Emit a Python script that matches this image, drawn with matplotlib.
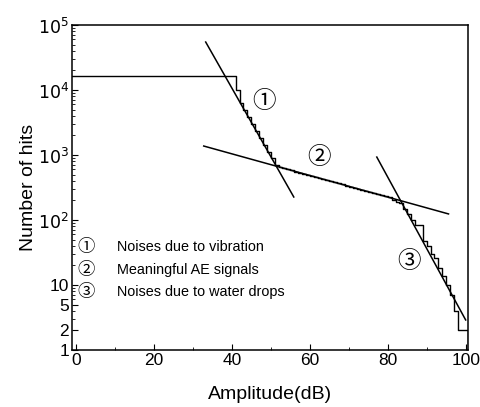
import matplotlib
matplotlib.use("Agg")
import matplotlib.pyplot as plt
from matplotlib.ticker import FixedLocator, FixedFormatter, MultipleLocator, LogLocator, NullFormatter

plt.rcParams['font.family'] = ['Liberation Sans', 'DejaVu Sans']

# cumulative hit counts (steps-post): value holds from amplitude[i] to amplitude[i+1]
amplitude = [-1, 41, 42, 43, 44, 45, 46, 47, 48, 49, 50, 51, 52, 53, 54, 55, 56, 57, 58, 59,
             60, 61, 62, 63, 64, 65, 66, 67, 68, 69, 70, 71, 72, 73, 74, 75, 76, 77, 78, 79,
             80, 81, 82, 83, 84, 85, 86, 87, 88, 89, 90, 91, 92, 93, 94, 95, 96, 97, 98, 99,
             100, 100.5, 100.5]
hits = [16500, 10000, 6300, 4900, 3800, 3000, 2350, 1850, 1450, 1130, 890, 700, 650, 626, 602, 580,
        557, 537, 516, 497, 478, 460, 443, 426, 410, 395, 380, 366, 352, 339, 326, 313,
        302, 290, 279, 269, 259, 249, 240, 231, 222, 205, 190, 180, 150, 125, 100, 83,
        83, 47, 40, 30, 26, 18, 14, 10, 7, 4, 2, 2, 2, 2, 1]

# fitted lines (endpoints)
fit1_x = [33.3, 55.9]
fit1_y = [54700, 226]
fit2_x = [32.8, 95.6]
fit2_y = [1374, 124]
fit3_x = [77.2, 100.0]
fit3_y = [930, 2.9]

# region labels
region_marks = ['\u2460', '\u2461', '\u2462']
region_x = [48.2, 62.3, 85.4]
region_y = [6760, 930, 22.6]
legend_texts = ['Noises due to vibration', 'Meaningful AE signals', 'Noises due to water drops']

ytick_vals = [1, 2, 5, 10, 100, 1000, 10000, 100000]
ytick_labels = ['1', '2', '5', '10', r'$10^2$', r'$10^3$', r'$10^4$', r'$10^5$']
xtick_vals = [0, 20, 40, 60, 80, 100]

fig = plt.figure(figsize=(4.8, 4.07), dpi=100)
ax = fig.add_axes([0.15, 0.14, 0.825, 0.7986])

ax.plot(amplitude, hits, drawstyle='steps-post', color='black', lw=1.0)
for fx, fy in [(fit1_x, fit1_y), (fit2_x, fit2_y), (fit3_x, fit3_y)]:
    ax.plot(fx, fy, color='black', lw=1.1)

circ_font = ['Noto Sans CJK JP', 'DejaVu Sans']
for m, x, y in zip(region_marks, region_x, region_y):
    ax.text(x, y, m, fontsize=17, ha='center', va='center', family=circ_font)

leg_y = [0.317, 0.247, 0.178]
for m, t, y in zip(region_marks, legend_texts, leg_y):
    ax.text(0.035, y, m, fontsize=12.5, ha='center', va='center', family=circ_font,
            transform=ax.transAxes)
    ax.text(0.114, y, t, fontsize=10.4, ha='left', va='center', transform=ax.transAxes)

ax.set_yscale('log')
ax.set_ylim(1, 1e5)
ax.set_xlim(-1, 100.6)
ax.yaxis.set_major_locator(FixedLocator(ytick_vals))
ax.yaxis.set_major_formatter(FixedFormatter(ytick_labels))
ax.yaxis.set_minor_locator(LogLocator(base=10, subs=range(2, 10), numticks=20))
ax.yaxis.set_minor_formatter(NullFormatter())
ax.xaxis.set_major_locator(FixedLocator(xtick_vals))
ax.xaxis.set_minor_locator(MultipleLocator(10))

ax.tick_params(which='major', direction='in', length=4, width=0.8, labelsize=12.5, pad=2)
ax.tick_params(which='minor', direction='in', length=2, width=0.6)
for s in ax.spines.values():
    s.set_linewidth(1.1)

ax.set_xlabel('Amplitude(dB)', fontsize=14)
ax.set_ylabel('Number of hits', fontsize=14)
ax.xaxis.set_label_coords(0.5, -0.138)
ax.yaxis.set_label_coords(-0.111, 0.5)
ax.xaxis.label.set_va('center')
ax.yaxis.label.set_va('center')

fig.savefig('out.png', dpi=100)
